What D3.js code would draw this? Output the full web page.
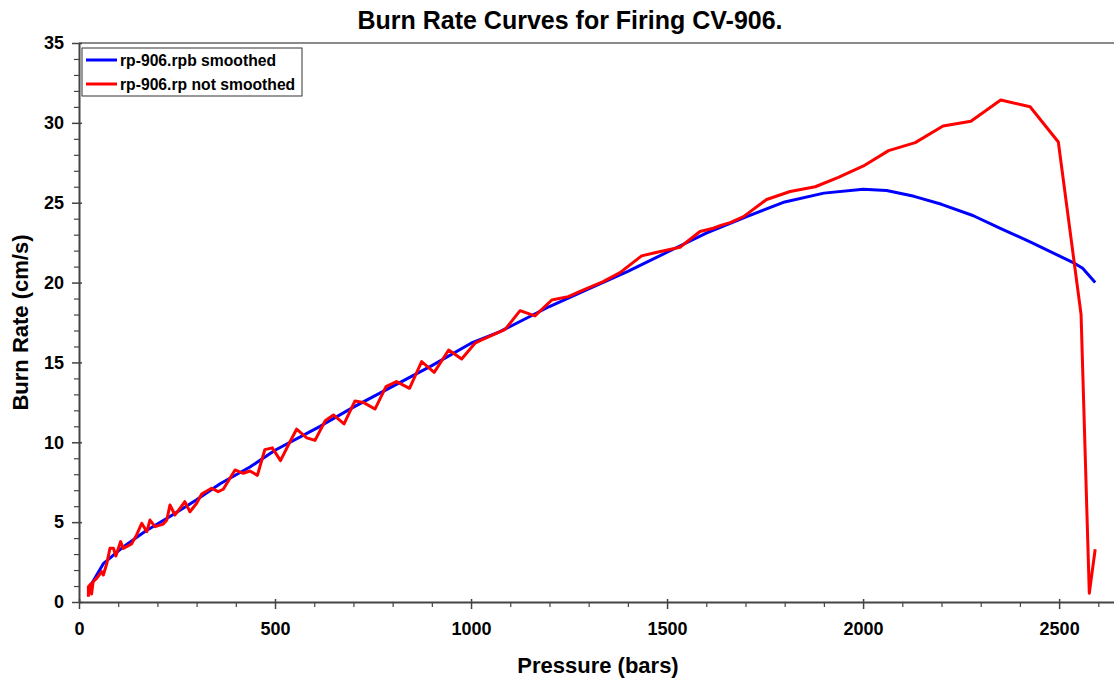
<!DOCTYPE html>
<html>
<head>
<meta charset="utf-8">
<script src="https://cdn.jsdelivr.net/npm/d3@7"></script>
<style>
  body { margin: 0; background: #fff; }
  text { font-family: "Liberation Sans", Arial, sans-serif; font-weight: bold; fill: #000; }
</style>
</head>
<body>
<script>
"use strict";

// smoothed burn rate (rp-906.rpb)
let pressureSmooth = [24, 62, 113, 170, 232, 300, 360, 436, 500, 615, 700, 800, 900, 1000, 1074,
    1200, 1300, 1400, 1500, 1600, 1700, 1800, 1900, 2000, 2060, 2130, 2200, 2280, 2350, 2430,
    2540, 2560, 2592];
let rateSmooth = [0.8, 2.4, 3.45, 4.45, 5.35, 6.4, 7.4, 8.45, 9.5, 11.0, 12.2, 13.5, 14.8, 16.2, 16.93,
    18.5, 19.6, 20.7, 21.9, 23.1, 24.1, 25.05, 25.6, 25.84, 25.76, 25.4, 24.9, 24.2, 23.4, 22.5,
    21.2, 20.9, 20.0];

// raw burn rate (rp-906.rp)
let pressureRaw = [24, 24, 30, 32, 36, 45, 58, 62, 71, 79, 88, 94, 106, 113, 134, 147, 160, 173,
    181, 194, 215, 224, 232, 245, 270, 283, 300, 313, 338, 355, 368, 398, 419, 436, 455, 474, 493,
    514, 534, 555, 581, 602, 628, 649, 676, 704, 725, 755, 783, 810, 843, 874, 906, 943, 976, 1010,
    1023, 1087, 1125, 1163, 1206, 1248, 1287, 1337, 1380, 1435, 1469, 1533, 1584, 1618, 1639, 1661,
    1695, 1754, 1814, 1878, 1937, 2001, 2065, 2133, 2204, 2275, 2351, 2426, 2498, 2556, 2577, 2592];
let rateRaw = [0.33, 0.96, 1.13, 0.5, 1.27, 1.48, 1.9, 1.69, 2.42, 3.36, 3.36, 2.88, 3.78, 3.36, 3.63,
    4.2, 4.93, 4.4, 5.13, 4.72, 4.88, 5.13, 6.07, 5.45, 6.28, 5.65, 6.18, 6.76, 7.12, 6.91, 7.06, 8.27,
    8.06, 8.2, 7.93, 9.54, 9.65, 8.85, 9.83, 10.82, 10.28, 10.12, 11.35, 11.71, 11.15, 12.59, 12.5,
    12.08, 13.48, 13.8, 13.38, 15.05, 14.38, 15.78, 15.22, 16.2, 16.36, 17.07, 18.24, 17.91, 18.91,
    19.12, 19.54, 20.06, 20.62, 21.67, 21.87, 22.21, 23.2, 23.4, 23.6, 23.75, 24.13, 25.2, 25.7,
    26.0, 26.59, 27.3, 28.26, 28.76, 29.8, 30.1, 31.43, 31.01, 28.8, 18.0, 0.55, 3.3];

let xMajorTicks = [0, 500, 1000, 1500, 2000, 2500];
let yMajorTicks = [0, 5, 10, 15, 20, 25, 30, 35];

let seriesNames = ["rp-906.rpb smoothed", "rp-906.rp not smoothed"];
let seriesColors = ["#0000ff", "#ff0000"];

let W = 1114, H = 680;
let margins = {top: 43, right: 0, bottom: 78, left: 79};

let svg = d3.select("body").append("svg")
    .attr("width", W)
    .attr("height", H);

let x = d3.scaleLinear().domain([0, 2640]).range([margins.left, W - margins.right]);
let y = d3.scaleLinear().domain([0, 35]).range([H - margins.bottom, margins.top]);

// title
svg.append("text")
    .attr("x", 570).attr("y", 29)
    .attr("text-anchor", "middle")
    .style("font-size", "25px")
    .text("Burn Rate Curves for Firing CV-906.");

// top frame line
svg.append("line")
    .attr("x1", x(0)).attr("x2", W)
    .attr("y1", y(35)).attr("y2", y(35))
    .attr("stroke", "#8a8a8a").attr("stroke-width", 2);

// minor ticks
let xMinor = d3.range(0, 2601, 100).filter(function(d) { return d % 500 !== 0; });
let yMinor = d3.range(0, 35, 1).filter(function(d) { return d % 5 !== 0; });

svg.append("g")
    .attr("transform", "translate(0," + y(0) + ")")
    .call(d3.axisBottom(x).tickValues(xMinor).tickSize(5).tickFormat(""))
    .call(function(g) { g.select(".domain").remove(); })
    .selectAll("line").attr("stroke", "#444").attr("stroke-width", 1.2);

svg.append("g")
    .attr("transform", "translate(" + x(0) + ",0)")
    .call(d3.axisLeft(y).tickValues(yMinor).tickSize(5).tickFormat(""))
    .call(function(g) { g.select(".domain").remove(); })
    .selectAll("line").attr("stroke", "#444").attr("stroke-width", 1.2);

// major axes
let xAxis = svg.append("g")
    .attr("transform", "translate(0," + y(0) + ")")
    .call(d3.axisBottom(x).tickValues(xMajorTicks).tickFormat(d3.format("d"))
        .tickSize(7).tickSizeOuter(0).tickPadding(13));
xAxis.select(".domain").attr("stroke", "#444").attr("stroke-width", 2);
xAxis.selectAll("line").attr("stroke", "#444").attr("stroke-width", 1.5).attr("y1", -3);
xAxis.selectAll("text").style("font-size", "18px").attr("fill", "#000");

let yAxis = svg.append("g")
    .attr("transform", "translate(" + x(0) + ",0)")
    .call(d3.axisLeft(y).tickValues(yMajorTicks).tickFormat(d3.format("d"))
        .tickSize(7).tickSizeOuter(0).tickPadding(8));
yAxis.select(".domain").attr("stroke", "#444").attr("stroke-width", 2);
yAxis.selectAll("line").attr("stroke", "#444").attr("stroke-width", 1.5).attr("x1", 3);
yAxis.selectAll("text").style("font-size", "18px").attr("fill", "#000");

// axis titles
svg.append("text")
    .attr("x", 598).attr("y", 673)
    .attr("text-anchor", "middle")
    .style("font-size", "22px")
    .text("Pressure (bars)");

svg.append("text")
    .attr("transform", "translate(28," + ((y(0) + y(35)) / 2) + ") rotate(-90)")
    .attr("text-anchor", "middle")
    .style("font-size", "22px")
    .text("Burn Rate (cm/s)");

// curves
let line = d3.line()
    .x(function(d) { return x(d[0]); })
    .y(function(d) { return y(d[1]); });

let smoothPts = pressureSmooth.map(function(p, i) { return [p, rateSmooth[i]]; });
let rawPts = pressureRaw.map(function(p, i) { return [p, rateRaw[i]]; });

svg.append("path")
    .datum(smoothPts)
    .attr("d", line)
    .attr("fill", "none")
    .attr("stroke", seriesColors[0])
    .attr("stroke-width", 3)
    .attr("stroke-linejoin", "round");

svg.append("path")
    .datum(rawPts)
    .attr("d", line)
    .attr("fill", "none")
    .attr("stroke", seriesColors[1])
    .attr("stroke-width", 3)
    .attr("stroke-linejoin", "round");

// legend
let legend = svg.append("g");
legend.append("rect")
    .attr("x", 82).attr("y", 48)
    .attr("width", 220).attr("height", 48)
    .attr("fill", "#fff")
    .attr("stroke", "#333").attr("stroke-width", 1);

seriesNames.forEach(function(name, i) {
    let ly = 60 + i * 24;
    legend.append("line")
        .attr("x1", 86).attr("x2", 117)
        .attr("y1", ly).attr("y2", ly)
        .attr("stroke", seriesColors[i]).attr("stroke-width", 3);
    legend.append("text")
        .attr("x", 120).attr("y", ly + 5.5)
        .style("font-size", "15.7px")
        .text(name);
});
</script>
</body>
</html>
